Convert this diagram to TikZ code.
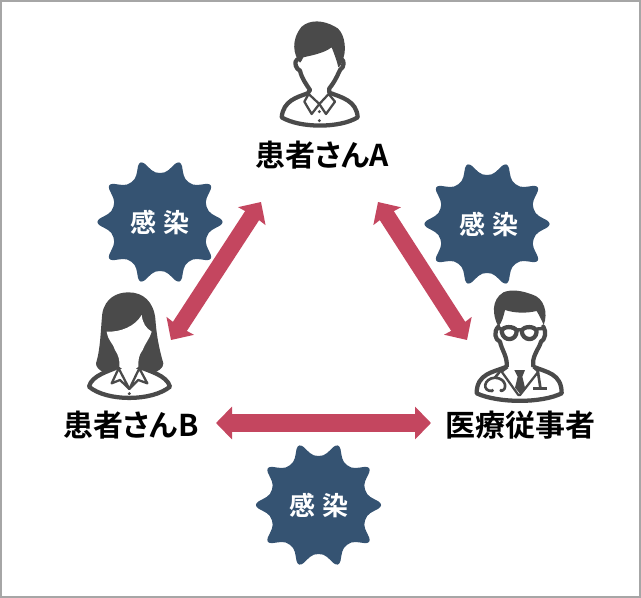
\documentclass[tikz,border=0pt]{standalone}
\usepackage{fontspec}
\setmainfont[BoldFont={Noto Sans CJK JP Bold}]{Noto Sans CJK JP}
\usetikzlibrary{arrows.meta}
\definecolor{burstc}{HTML}{355372}
\definecolor{arrowc}{HTML}{C4465F}
\definecolor{iconc}{HTML}{4A4A4A}
\definecolor{framec}{HTML}{A6A6A6}
\tikzset{
  lbl/.style={font=\fontsize{22.5pt}{26pt}\selectfont\bfseries,text=black,inner sep=0pt},
  lblp/.style={lbl,font=\fontsize{22.5pt}{26pt}\selectfont\bfseries\addfontfeatures{RawFeature=+palt}},
  bursttext/.style={font=\fontsize{19.5pt}{24pt}\selectfont\bfseries,text=white,inner sep=0pt},
  link/.style={draw=arrowc,line width=12.5pt,{Stealth[length=12.5pt,width=24pt,inset=0.8pt]}-{Stealth[length=12.5pt,width=24pt,inset=0.8pt]}},
  linkflat/.style={draw=arrowc,line width=14pt,{Triangle[length=12pt,width=24pt]}-{Triangle[length=12pt,width=24pt]}},
  icon/.style={draw=iconc,line width=3.2pt,line join=round,line cap=round},
  thinicon/.style={draw=iconc,line width=1.7pt,line join=round,fill=white},
  hair/.style={fill=iconc,draw=none}
}
\newcommand{\burstshape}[2]{%
  \fill[burstc,shift={(#1,#2)}] (-18:49) \foreach \a in {0,36,...,324}{ .. controls (\a-10:49) and (\a-7:55) .. (\a-3.5:60) .. controls (\a-1.2:63.5) and (\a+1.2:63.5) .. (\a+3.5:60) .. controls (\a+7:55) and (\a+10:49) .. (\a+18:49)} -- cycle;
}
\begin{document}
\begin{tikzpicture}[x=0.75pt,y=-0.75pt]
\useasboundingbox (0,0) rectangle (641,598);
\draw[framec,line width=1.5pt] (1,1) rectangle (640,597);

% bursts
\burstshape{160}{222}
\burstshape{487}{224}
\burstshape{318.5}{505}
\node[bursttext] (ia) at (160,222) {感\hspace{0.3em}染};
\node[bursttext] (ic) at (489,224) {感\hspace{0.3em}染};
\node[bursttext] (ib) at (319,505) {感\hspace{0.3em}染};

% labels
\node[lblp] (pa) at (322,155) {患者さんA};
\node[lblp] (pb) at (131,425) {患者さんB};
\node[lbl] (md) at (520,425) {医療従事者};

% connector ends
\coordinate (ab1) at (261,202);
\coordinate (ab2) at (171,340);
\coordinate (am1) at (378,202);
\coordinate (am2) at (467,340);
\coordinate (bm1) at (216,423);
\coordinate (bm2) at (431,423);
\draw[link] (ab1) -- (ab2);
\draw[link] (am1) -- (am2);
\draw[linkflat] (bm1) -- (bm2);

% Patient A
\begin{scope}[shift={(260,10)},x=0.25pt,y=-0.25pt]
\draw[icon] (112,148) .. controls (100,155) and (108,178) .. (120,182) .. controls (125,205) and (140,225) .. (150,240) -- (143,250) .. controls (110,262) and (70,272) .. (65,322) .. controls (120,355) and (240,355) .. (293,322) .. controls (290,272) and (245,262) .. (208,248) -- (208,235) .. controls (225,215) and (235,190) .. (240,180) .. controls (255,170) and (252,150) .. (245,148);
\fill[hair] (120,158) .. controls (100,135) and (92,90) .. (125,50) .. controls (150,28) and (190,30) .. (225,50) .. controls (250,60) and (262,110) .. (250,145) .. controls (247,160) and (240,170) .. (235,172) .. controls (230,150) and (222,130) .. (215,112) .. controls (190,130) and (160,135) .. (130,142) .. controls (126,150) and (124,155) .. (120,158) -- cycle;
\draw[thinicon] (146,252) -- (133,275) -- (155,312) -- (178,282) -- cycle;
\draw[thinicon] (206,252) -- (225,275) -- (198,312) -- (178,282) -- cycle;
\fill[iconc] (178,305) circle (5) (178,332) circle (5);
\end{scope}

% Patient B
\begin{scope}[shift={(70,285)},x=0.25pt,y=-0.25pt]
\fill[hair] (105,264) .. controls (85,255) and (78,245) .. (78,235) .. controls (92,190) and (92,130) .. (97,85) .. controls (105,40) and (140,22) .. (175,22) .. controls (220,22) and (250,50) .. (256,100) .. controls (260,160) and (270,200) .. (280,235) .. controls (280,250) and (265,258) .. (250,264) -- cycle;
\draw[icon,fill=white] (145,245) .. controls (120,258) and (65,270) .. (57,305) .. controls (110,350) and (245,350) .. (300,305) .. controls (290,270) and (235,258) .. (208,245) -- cycle;
\fill[white] (110,140) .. controls (150,142) and (195,125) .. (215,90) .. controls (218,115) and (228,130) .. (245,140) .. controls (240,160) and (225,175) .. (218,195) .. controls (205,212) and (205,225) .. (205,245) -- (178,268) -- (148,245) .. controls (150,225) and (145,210) .. (135,195) .. controls (130,175) and (115,170) .. (110,140) -- cycle;
\draw[thinicon] (146,250) -- (125,295) -- (150,285) -- (178,312) -- cycle;
\draw[thinicon] (208,250) -- (232,295) -- (205,285) -- (178,312) -- cycle;
\fill[iconc] (178,326) circle (5);
\end{scope}

% Medical staff
\begin{scope}[shift={(465,285)},x=0.25pt,y=-0.25pt]
\draw[icon] (100,125) .. controls (85,140) and (90,165) .. (105,170) .. controls (110,195) and (128,215) .. (125,245) .. controls (85,262) and (35,265) .. (35,325) .. controls (100,355) and (230,355) .. (290,325) .. controls (290,265) and (245,262) .. (205,245) -- (205,225) .. controls (210,200) and (225,185) .. (228,170) .. controls (240,165) and (245,140) .. (235,125);
\fill[hair] (100,125) .. controls (82,90) and (78,45) .. (115,22) .. controls (140,12) and (170,17) .. (200,28) .. controls (238,38) and (250,85) .. (236,120) .. controls (230,105) and (222,90) .. (215,78) .. controls (185,85) and (150,85) .. (120,75) .. controls (115,95) and (112,110) .. (100,125) -- cycle;
\draw[icon,fill=white] (110,140) .. controls (110,122) and (150,122) .. (155,138) .. controls (155,168) and (115,172) .. (110,140) -- cycle;
\draw[icon,fill=white] (170,138) .. controls (175,122) and (212,122) .. (215,140) .. controls (212,172) and (172,168) .. (170,138) -- cycle;
\draw[iconc,line width=2.5pt] (155,134) -- (170,134) (96,130) -- (110,132) (215,132) -- (238,130);
\draw[thinicon] (128,247) -- (110,260) -- (160,330) -- (165,330) -- (220,260) -- (205,247);
\fill[iconc] (148,255) -- (180,255) -- (172,275) -- (180,308) -- (165,326) -- (150,308) -- (158,275) -- cycle;
\draw[iconc,line width=2pt,line cap=round] (82,318) .. controls (50,320) and (55,280) .. (90,278) .. controls (125,280) and (128,315) .. (108,318);
\draw[iconc,line width=2pt] (90,278) -- (108,255);
\draw[iconc,line width=2pt] (218,255) -- (226,308);
\draw[iconc,line width=2.6pt] (205,310) -- (247,310);
\fill[iconc] (82,316) circle (5) (108,316) circle (5);
\end{scope}
\end{tikzpicture}
\end{document}
